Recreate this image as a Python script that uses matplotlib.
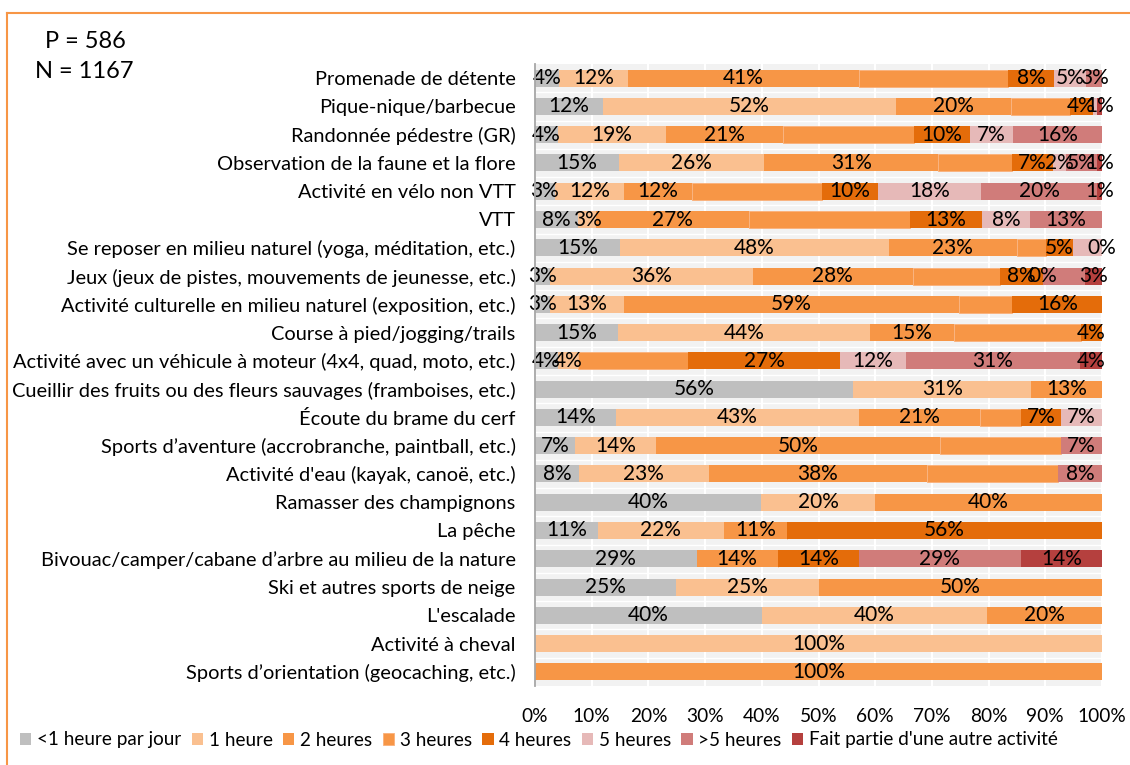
from matplotlib import pyplot as plt
from matplotlib.lines import Line2D
import numpy as np

plt.rcParams['font.family'] = ['Lato', 'DejaVu Sans']

categories = [
    "Promenade de détente",
    "Pique-nique/barbecue",
    "Randonnée pédestre (GR)",
    "Observation de la faune et la flore",
    "Activité en vélo non VTT",
    "VTT",
    "Se reposer en milieu naturel (yoga, méditation, etc.)",
    "Jeux (jeux de pistes, mouvements de jeunesse, etc.)",
    "Activité culturelle en milieu naturel (exposition, etc.)",
    "Course à pied/jogging/trails",
    "Activité avec un véhicule à moteur (4x4, quad, moto, etc.)",
    "Cueillir des fruits ou des fleurs sauvages (framboises, etc.)",
    "Écoute du brame du cerf",
    "Sports d’aventure (accrobranche, paintball, etc.)",
    "Activité d'eau (kayak, canoë, etc.)",
    "Ramasser des champignons",
    "La pêche",
    "Bivouac/camper/cabane d’arbre au milieu de la nature",
    "Ski et autres sports de neige",
    "L'escalade",
    "Activité à cheval",
    "Sports d’orientation (geocaching, etc.)",
]

series_names = ["<1 heure par jour", "1 heure", "2 heures", "3 heures",
                "4 heures", "5 heures", ">5 heures",
                "Fait partie d'une autre activité"]
colors = ['#bfbfbf', '#fac090', '#f79646', '#f79646',
          '#e46c0a', '#e6b9b8', '#d07c7a', '#b5403e']

# segment widths (%)
lt1 = [4.2, 12.0, 4.0, 14.8, 3.5, 7.6, 15.0, 2.6, 2.7, 14.7, 4.0,
       56.1, 14.2, 7.1, 7.7, 39.9, 11.1, 28.5, 24.9, 40.0, 0, 0]
h1 = [12.2, 51.7, 19.1, 25.6, 12.2, 3.2, 47.4, 35.8, 13.0, 44.4, 3.6,
      31.4, 42.9, 14.3, 23.0, 20.1, 22.2, 0, 25.1, 39.8, 100, 0]
h2 = [40.8, 20.3, 20.7, 30.7, 12.0, 27.0, 22.6, 28.2, 59.0, 14.8, 0,
      12.5, 21.4, 50.0, 38.4, 40.0, 11.1, 14.3, 50.0, 20.2, 0, 100]
h3 = [26.3, 10.4, 23.1, 13.0, 22.9, 28.3, 5.1, 15.4, 9.5, 22.4, 19.4,
      0, 7.2, 21.4, 23.1, 0, 0, 0, 0, 0, 0, 0]
h4 = [8.0, 4.0, 9.8, 7.3, 9.9, 12.7, 4.8, 7.6, 15.8, 3.7, 26.8,
      0, 7.1, 0, 0, 0, 55.6, 14.3, 0, 0, 0, 0]
h5 = [5.7, 0.7, 7.6, 2.3, 18.2, 8.5, 5.1, 0, 0, 0, 11.6,
      0, 7.2, 0, 0, 0, 0, 0, 0, 0, 0, 0]
gt5 = [2.8, 0, 15.7, 5.4, 20.4, 12.7, 0, 7.4, 0, 0, 30.7,
       0, 0, 7.2, 7.8, 0, 0, 28.6, 0, 0, 0, 0]
fp = [0, 0.9, 0, 0.9, 0.9, 0, 0, 3.0, 0, 0, 3.9,
      0, 0, 0, 0, 0, 0, 14.3, 0, 0, 0, 0]

# data labels as printed on the chart ("" = no label)
lab_lt1 = ["4%", "12%", "4%", "15%", "3%", "8%", "15%", "3%", "3%", "15%", "4%",
           "56%", "14%", "7%", "8%", "40%", "11%", "29%", "25%", "40%", "", ""]
lab_h1 = ["12%", "52%", "19%", "26%", "12%", "3%", "48%", "36%", "13%", "44%", "4%",
          "31%", "43%", "14%", "23%", "20%", "22%", "", "25%", "40%", "100%", ""]
lab_h2 = ["41%", "20%", "21%", "31%", "12%", "27%", "23%", "28%", "59%", "15%", "",
          "13%", "21%", "50%", "38%", "40%", "11%", "14%", "50%", "20%", "", "100%"]
lab_h3 = [""] * 22
lab_h4 = ["8%", "4%", "10%", "7%", "10%", "13%", "5%", "8%", "16%", "4%", "27%",
          "", "7%", "", "", "", "56%", "14%", "", "", "", ""]
lab_h5 = ["5%", "", "7%", "2%", "18%", "8%", "", "0%", "", "", "12%",
          "", "7%", "", "", "", "", "", "", "", "", ""]
lab_gt5 = ["3%", "", "16%", "5%", "20%", "13%", "0%", "", "", "", "31%",
           "", "", "7%", "8%", "", "", "29%", "", "", "", ""]
lab_fp = ["", "1%", "", "1%", "1%", "", "", "3%", "", "", "4%",
          "", "", "", "", "", "", "14%", "", "", "", ""]

values = [lt1, h1, h2, h3, h4, h5, gt5, fp]
labels = [lab_lt1, lab_h1, lab_h2, lab_h3, lab_h4, lab_h5, lab_gt5, lab_fp]

fig = plt.figure(figsize=(11.3, 7.65), dpi=100)
ax = fig.add_axes([535 / 1130, 1 - 686 / 765, 567 / 1130, 622 / 765])
ax.set_facecolor('#f2f2f2')

y = np.arange(len(categories))
left = np.zeros(len(categories))
for i, (vals, labs) in enumerate(zip(values, labels)):
    vals = np.array(vals, dtype=float)
    if i == 3:
        ax.barh(y, vals, left=left, height=0.6, color=colors[i],
                edgecolor='#fab07a', linewidth=0.6, label=series_names[i], zorder=3)
    else:
        ax.barh(y, vals, left=left, height=0.6, color=colors[i],
                linewidth=0, label=series_names[i], zorder=3)
    for yy, l, v, t in zip(y, left, vals, labs):
        if t:
            ax.text(l + v / 2, yy, t, ha='center', va='center',
                    fontsize=15, color='black', zorder=4)
    left += vals

ax.set_xlim(0, 100)
ax.set_ylim(len(categories) - 0.5, -0.5)
ax.set_xticks(np.arange(0, 101, 10))
ax.set_xticklabels([f"{v}%" for v in range(0, 101, 10)])
ax.set_yticks(y)
ax.set_yticklabels(categories, fontsize=14.4)
ax.tick_params(axis='both', length=0, colors='black')
ax.tick_params(axis='x', pad=16, labelsize=13.8)
ax.tick_params(axis='y', pad=14)
ax.grid(axis='x', color='white', linewidth=1.5, zorder=1)
ax.set_axisbelow(True)
for b in np.arange(0.5, len(categories) - 1, 1):
    ax.axhline(b, color='white', linewidth=1.0, zorder=1)
for s in ['top', 'right', 'bottom']:
    ax.spines[s].set_visible(False)
ax.spines['left'].set_color('#a6a6a6')
ax.spines['left'].set_linewidth(1.3)
ax.spines['left'].set_zorder(5)

fig.legend(loc='center', bbox_to_anchor=(539 / 1130, 1 - 740 / 765), ncol=8,
           frameon=False, fontsize=13.6, handlelength=0.6, handleheight=0.6,
           handletextpad=0.3, columnspacing=0.55, borderaxespad=0)

fig.text(85 / 1130, 1 - 42 / 765, "P = 586", ha='center', va='center', fontsize=17)
fig.text(84 / 1130, 1 - 72 / 765, "N = 1167", ha='center', va='center', fontsize=17)

fig.add_artist(Line2D([7 / 1130, 1], [1 - 13 / 765, 1 - 13 / 765],
                      color='#f79646', linewidth=1.5))
fig.add_artist(Line2D([7 / 1130, 7 / 1130], [0, 1 - 13 / 765],
                      color='#f79646', linewidth=1.5))

fig.savefig('out.png', dpi=100)
